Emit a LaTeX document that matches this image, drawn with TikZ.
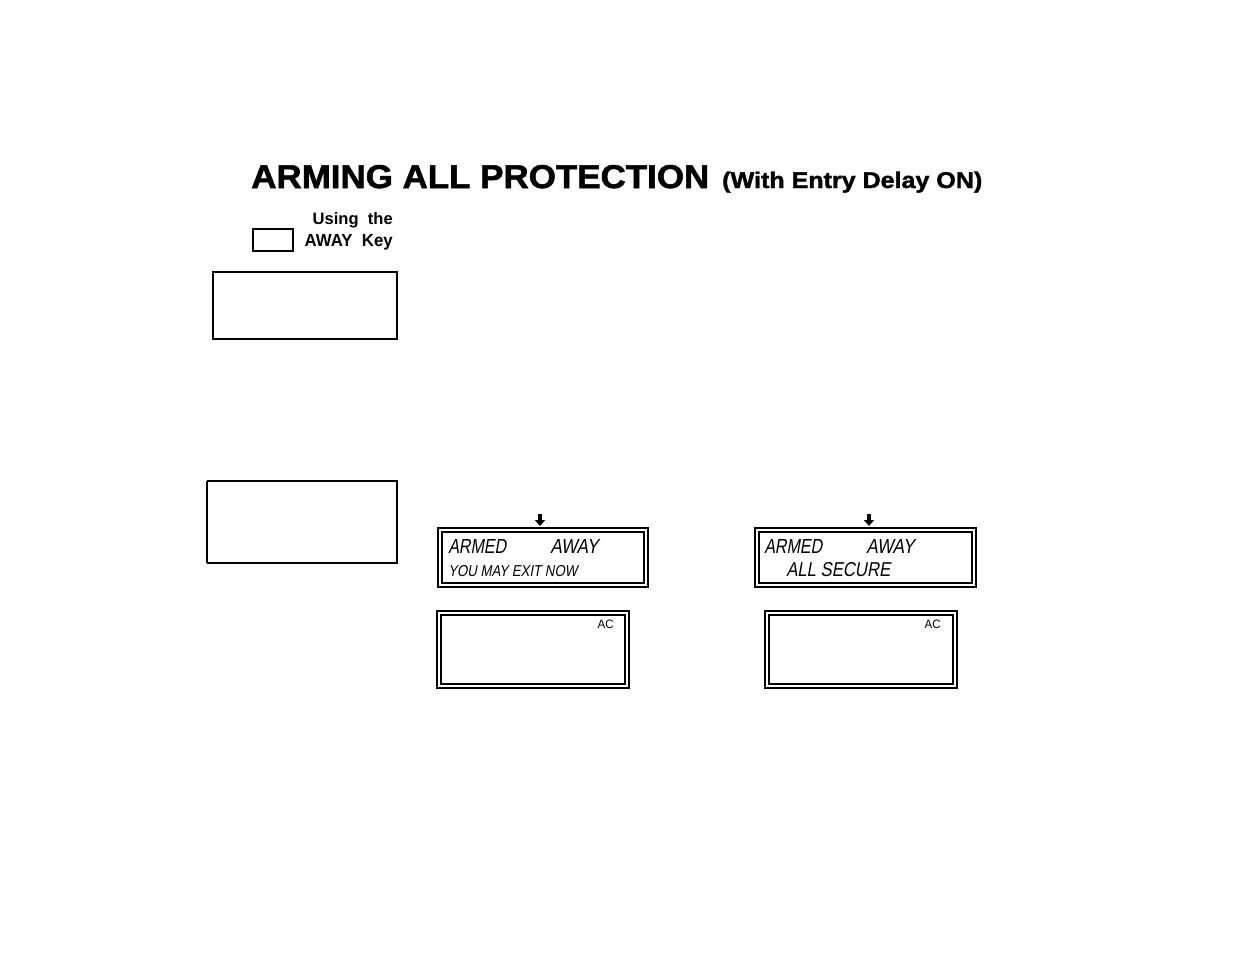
\documentclass[tikz,border=0pt]{standalone}
\usepackage{fontspec}
\setmainfont{Liberation Sans}
\newfontfamily\heavyfont{Liberation Sans}[BoldFeatures={FakeBold=1.6}]
\newfontfamily\lcdfont{Liberation Sans}[FakeSlant=0.22]
\usetikzlibrary{arrows.meta}
\setlength{\unitlength}{0.75pt}
\newcommand\fitbox[3]{\resizebox{#1\unitlength}{#2\unitlength}{#3}}
\begin{document}
\begin{tikzpicture}[x=0.75pt,y=-0.75pt,
  txt/.style={inner sep=0pt,anchor=base west},
  txtr/.style={inner sep=0pt,anchor=base east},
  thickframe/.style={line width=1.8pt},
  thinframe/.style={line width=0.8pt},
  downarrow/.style={-{Triangle[length=4.5pt,width=7.5pt]},line width=2.6pt}]
\useasboundingbox (0,0) rectangle (1235,954);
% title
\node[txt] (title) at (251,188) {\fitbox{458}{23}{\heavyfont\bfseries ARMING ALL PROTECTION}};
\node[txt] (sub) at (722,188) {\fitbox{260}{16.5}{\heavyfont\bfseries (With Entry Delay ON)}};
% side heading
\node[txtr] (using) at (393,224) {\fitbox{80}{12}{\bfseries Using\ \ the}};
\node[txtr] (awaykey) at (393,246) {\fitbox{88}{12}{\bfseries AWAY\ \ Key}};
\draw[line width=0.8pt] (253,229) rectangle (293,251);
% left boxes
\draw[line width=2pt] (213,272) rectangle (397,339);
\draw[line width=1pt] (207,481) -- (207,563);
\draw[line width=1.9pt] (207,481) -- (397,481) -- (397,563) -- (207,563);
% LCD 1
\coordinate (a1s) at (540,514);
\coordinate (a1e) at (540,526);
\draw[downarrow] (a1s) -- (a1e);
\draw[thickframe] (438,528) rectangle (648,587);
\draw[thinframe] (442,532) rectangle (644,583);
\node[txt] (l1a) at (448,553) {\fitbox{58}{14}{\lcdfont ARMED}};
\node[txt] (l1b) at (550,553) {\fitbox{48}{14}{\lcdfont AWAY}};
\node[txt] (l1c) at (448,576) {\fitbox{129}{11}{\lcdfont YOU MAY EXIT NOW}};
% LCD 2
\coordinate (a2s) at (869,514);
\coordinate (a2e) at (869,526);
\draw[downarrow] (a2s) -- (a2e);
\draw[thickframe] (755,528) rectangle (976,587);
\draw[thinframe] (759,532) rectangle (972,583);
\node[txt] (l2a) at (764,553) {\fitbox{58}{14}{\lcdfont ARMED}};
\node[txt] (l2b) at (866,553) {\fitbox{48}{14}{\lcdfont AWAY}};
\node[txt] (l2c) at (786,576) {\fitbox{104}{14}{\lcdfont ALL SECURE}};
% keypad displays
\draw[thickframe] (437,611) rectangle (629,688);
\draw[thinframe] (441,615) rectangle (625,684);
\node[txtr] (ac1) at (614,628) {\fitbox{16}{8.5}{AC}};
\draw[thickframe] (765,611) rectangle (957,688);
\draw[thinframe] (769,615) rectangle (953,684);
\node[txtr] (ac2) at (941,628) {\fitbox{16}{8.5}{AC}};
\end{tikzpicture}
\end{document}
